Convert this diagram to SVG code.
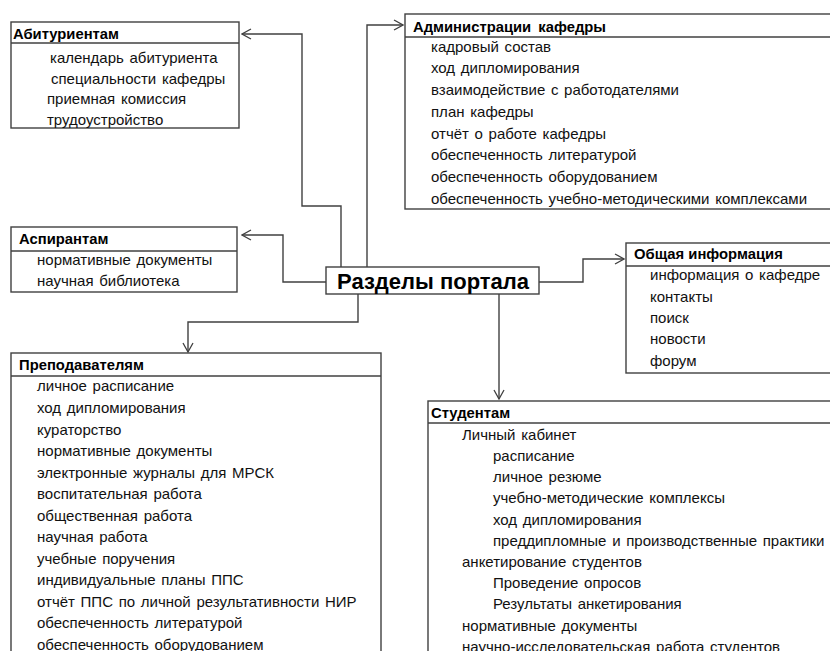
<svg xmlns="http://www.w3.org/2000/svg" width="830" height="651" viewBox="0 0 830 651">
<defs>
<marker id="arr" viewBox="-10 -6 11 12" refX="0" refY="0" markerWidth="11" markerHeight="12" markerUnits="userSpaceOnUse" orient="auto">
<path d="M-9,-5 L0,0 L-9,5" fill="none" stroke="#404040" stroke-width="1.3"/>
</marker>
</defs>
<style>
.box{fill:#fff;stroke:#404040;stroke-width:1.4}
.sep{stroke:#404040;stroke-width:1.4}
.hd{font-family:"Liberation Sans",Arial,sans-serif;font-size:14.8px;font-weight:bold;fill:#000}
.it{font-family:"Liberation Sans",Arial,sans-serif;font-size:15px;word-spacing:1.5px;fill:#111}
.ttl{font-family:"Liberation Sans",Arial,sans-serif;font-size:22px;font-weight:bold;fill:#000}
.con{fill:none;stroke:#404040;stroke-width:1.4}
</style>
<rect width="830" height="651" fill="#fff"/>
<g id="connectors">
<polyline class="con" points="341,267 341,206 302,206 302,34 242,34" marker-end="url(#arr)"/>
<polyline class="con" points="367,267 367,25 403,25" marker-end="url(#arr)"/>
<polyline class="con" points="326,282 283,282 283,235 242,235" marker-end="url(#arr)"/>
<polyline class="con" points="539,282 583,282 583,259 624,259" marker-end="url(#arr)"/>
<polyline class="con" points="358,294 358,322 188,322 188,352" marker-end="url(#arr)"/>
<polyline class="con" points="499,294 499,399" marker-end="url(#arr)"/>
</g>
<g id="center">
<rect class="box" x="326" y="267" width="213" height="27"/>
<text class="ttl" x="337" y="289">Разделы портала</text>
</g>
<g id="abiturientam">
<rect class="box" x="11" y="22" width="228" height="106"/>
<line class="sep" x1="11" y1="43" x2="239" y2="43"/>
<text class="hd" x="13" y="39" textLength="106" lengthAdjust="spacingAndGlyphs">Абитуриентам</text>
<text class="it" x="50" y="63">календарь абитуриента</text>
<text class="it" x="51" y="84">специальности кафедры</text>
<text class="it" x="47" y="104">приемная комиссия</text>
<text class="it" x="47" y="125">трудоустройство</text>
</g>
<g id="administration">
<rect class="box" x="405" y="14" width="440" height="195"/>
<line class="sep" x1="405" y1="37" x2="845" y2="37"/>
<text class="hd" x="413" y="32" word-spacing="3px">Администрации кафедры</text>
<text class="it" x="431" y="52">кадровый состав</text>
<text class="it" x="431" y="73">ход дипломирования</text>
<text class="it" x="431" y="95">взаимодействие с работодателями</text>
<text class="it" x="431" y="117">план кафедры</text>
<text class="it" x="431" y="139">отчёт о работе кафедры</text>
<text class="it" x="431" y="160">обеспеченность литературой</text>
<text class="it" x="431" y="182">обеспеченность оборудованием</text>
<text class="it" x="431" y="204">обеспеченность учебно-методическими комплексами</text>
</g>
<g id="aspirantam">
<rect class="box" x="11" y="227" width="226" height="65"/>
<line class="sep" x1="11" y1="251" x2="237" y2="251"/>
<text class="hd" x="19" y="244">Аспирантам</text>
<text class="it" x="37" y="265">нормативные документы</text>
<text class="it" x="37" y="286">научная библиотека</text>
</g>
<g id="general">
<rect class="box" x="626" y="243" width="220" height="130"/>
<line class="sep" x1="626" y1="266" x2="846" y2="266"/>
<text class="hd" x="634" y="259">Общая информация</text>
<text class="it" x="650" y="280">информация о кафедре</text>
<text class="it" x="650" y="302">контакты</text>
<text class="it" x="650" y="323">поиск</text>
<text class="it" x="650" y="344">новости</text>
<text class="it" x="650" y="366">форум</text>
</g>
<g id="teachers">
<rect class="box" x="11" y="353" width="370" height="310"/>
<line class="sep" x1="11" y1="376" x2="381" y2="376"/>
<text class="hd" x="19" y="370">Преподавателям</text>
<text class="it" x="37" y="391">личное расписание</text>
<text class="it" x="37" y="413">ход дипломирования</text>
<text class="it" x="37" y="435">кураторство</text>
<text class="it" x="37" y="456">нормативные документы</text>
<text class="it" x="37" y="478">электронные журналы для МРСК</text>
<text class="it" x="37" y="499">воспитательная работа</text>
<text class="it" x="37" y="521">общественная работа</text>
<text class="it" x="37" y="542">научная работа</text>
<text class="it" x="37" y="564">учебные поручения</text>
<text class="it" x="37" y="585">индивидуальные планы ППС</text>
<text class="it" x="37" y="607">отчёт ППС по личной результативности НИР</text>
<text class="it" x="37" y="628">обеспеченность литературой</text>
<text class="it" x="37" y="650">обеспеченность оборудованием</text>
</g>
<g id="students">
<rect class="box" x="428" y="401" width="420" height="270"/>
<line class="sep" x1="428" y1="423" x2="848" y2="423"/>
<text class="hd" x="431" y="418">Студентам</text>
<text class="it" x="462" y="440">Личный кабинет</text>
<text class="it" x="493" y="461">расписание</text>
<text class="it" x="493" y="482">личное резюме</text>
<text class="it" x="493" y="503">учебно-методические комплексы</text>
<text class="it" x="493" y="525">ход дипломирования</text>
<text class="it" x="493" y="546">преддипломные и производственные практики</text>
<text class="it" x="462" y="567">анкетирование студентов</text>
<text class="it" x="493" y="588">Проведение опросов</text>
<text class="it" x="493" y="609">Результаты анкетирования</text>
<text class="it" x="462" y="631">нормативные документы</text>
<text class="it" x="462" y="652">научно-исследовательская работа студентов</text>
</g>
</svg>
